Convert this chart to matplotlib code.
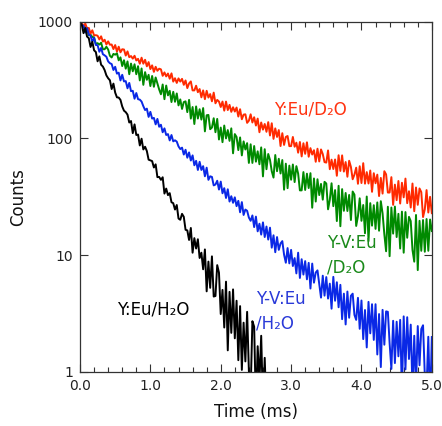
import matplotlib
matplotlib.use("Agg")
import matplotlib.pyplot as plt
import numpy as np
from matplotlib.ticker import MultipleLocator, FixedLocator, FormatStrFormatter

# decay curves, one value every 0.025 ms from t = 0
y_eu_d2o = [1000, 984, 904, 966, 871, 885, 791, 845, 764, 767,
            759, 705, 750, 676, 701, 638, 679, 635, 638, 583,
            631, 555, 611, 547, 581, 578, 513, 557, 497, 508,
            483, 511, 466, 481, 437, 492, 437, 472, 415, 451,
            393, 423, 372, 411, 380, 396, 391, 344, 368, 340,
            360, 325, 361, 307, 328, 299, 327, 307, 324, 288,
            314, 270, 296, 308, 258, 258, 283, 249, 265, 225,
            258, 217, 256, 224, 240, 208, 247, 200, 214, 207,
            186, 207, 173, 207, 175, 194, 169, 185, 170, 184,
            154, 178, 146, 160, 161, 136, 142, 161, 137, 152,
            129, 148, 113, 137, 119, 133, 114, 138, 106, 135,
            99.1, 122, 103, 118, 86.1, 111, 88, 103, 105, 85.9,
            86, 103, 84.9, 92, 75.5, 93.3, 70.1, 91, 73.8, 92.7,
            69.7, 82.6, 72.8, 79.3, 63.1, 81.7, 63.5, 80.5, 73.5, 62.7,
            62.1, 78.9, 54.5, 65.8, 54.7, 66.1, 47.9, 71.8, 52.7, 71.6,
            52.0, 62.8, 47.0, 64.4, 57.0, 44.7, 49.0, 56.2, 40.9, 57.8,
            41.5, 61.4, 41.0, 51.5, 41.1, 53.1, 34.9, 50.4, 41.3, 49.0,
            32.1, 45.9, 33.7, 52.4, 49.2, 34.4, 34.4, 46.6, 27.0, 40.2,
            29.6, 43.2, 27.7, 41.7, 31.3, 45.3, 27.9, 35.3, 25.6, 41.1,
            23.8, 38.0, 27.0, 37.3, 34.7, 21.2, 24.7, 36.1, 23.2, 31.6,
            22.9]

yv_eu_d2o = [1000, 938, 925, 895, 887, 767, 774, 741, 735, 643,
             655, 637, 661, 581, 581, 610, 578, 511, 494, 530,
             522, 537, 467, 495, 417, 468, 396, 457, 355, 438,
             376, 432, 355, 416, 314, 398, 288, 370, 318, 351,
             281, 343, 277, 333, 295, 263, 239, 290, 217, 284,
             234, 256, 205, 251, 206, 243, 192, 216, 179, 205,
             208, 168, 214, 148, 186, 133, 188, 148, 178, 145,
             182, 115, 158, 159, 120, 124, 149, 113, 147, 98.0,
             124, 92.9, 129, 100, 118, 95.3, 122, 74.6, 109, 103,
             79.4, 102, 71.6, 94.4, 80.4, 91.2, 61.7, 89.1, 61.7, 86.1,
             63.2, 77.6, 60.1, 83.8, 47.3, 80.9, 54.5, 73.6, 65.5, 52.4,
             46.2, 72.1, 52.4, 67.0, 50.1, 65.3, 36.4, 60.8, 37.5, 58.5,
             44.3, 59.8, 42.3, 57.9, 50.0, 35.9, 35.9, 51.5, 36.2, 49.9,
             37.6, 50.4, 25.5, 45.4, 28.8, 44.7, 32.7, 40.8, 29.9, 42.5,
             41.1, 24.7, 29.8, 41.3, 26.3, 36.1, 19.6, 39.3, 17.7, 36.8,
             24.0, 34.1, 23.9, 32.8, 20.0, 35.1, 33.0, 17.8, 21.6, 30.7,
             19.7, 26.9, 15.4, 31.8, 13.2, 27.9, 17.9, 26.8, 16.8, 28.3,
             16.2, 29.0, 22.8, 15.1, 10.8, 26.0, 9.8, 25.6, 15.3, 26.1,
             14.3, 22.6, 11.4, 23.6, 10.5, 23.4, 14.1, 21.3, 19.6, 11.1,
             8.8, 22.1, 7.45, 19.7, 10.9, 20.0, 10.7, 20.4, 10.9, 20.2,
             16.1]

yv_eu_h2o = [1000, 940, 920, 809, 881, 778, 757, 673, 728, 632,
             630, 553, 596, 527, 515, 501, 457, 441, 434, 386,
             411, 359, 366, 314, 351, 308, 310, 269, 299, 254,
             256, 219, 245, 217, 215, 207, 189, 175, 180, 153,
             169, 148, 150, 132, 147, 126, 131, 113, 122, 107,
             109, 96.2, 107, 94.4, 96.4, 94.0, 85.5, 81.1, 83.4, 72.8,
             80.0, 68.4, 75.9, 64.7, 71.6, 58.9, 64.3, 53.7, 63.1, 53.7,
             57.9, 47.4, 56.2, 44.2, 47.4, 46.8, 39.6, 40.3, 43.4, 36.5,
             42.7, 33.9, 37.5, 30.9, 36.7, 28.8, 32.0, 28.1, 31.3, 26.3,
             29.2, 23.3, 28.5, 22.1, 24.6, 24.0, 21.0, 19.7, 21.9, 17.4,
             21.4, 16.0, 18.6, 15.0, 19.1, 14.3, 17.6, 13.6, 17.2, 11.6,
             14.8, 10.6, 14.3, 11.1, 12.6, 13.2, 10.1, 8.61, 11.5, 8.51,
             11.1, 8.07, 9.44, 6.98, 10.5, 6.38, 9.23, 6.82, 8.89, 6.21,
             8.59, 5.18, 8.47, 5.81, 7.10, 7.41, 5.62, 4.33, 6.67, 4.50,
             6.49, 4.25, 5.70, 3.48, 6.52, 4.07, 5.86, 3.58, 5.57, 2.83,
             4.68, 2.55, 4.88, 2.91, 4.49, 4.68, 3.08, 2.79, 4.31, 2.34,
             4.09, 1.91, 3.39, 1.62, 3.98, 2.14, 3.80, 1.88, 3.80, 1.41,
             3.13, 1.10, 3.40, 1.71, 3.30, 3.27, 1.76, 1.06, 2.74, 1.19,
             2.69, 1.36, 2.79, 0.66, 2.99, 1.05, 2.94, 1.29, 2.54, 0.70,
             2.04, 0.73, 2.47, 1.14, 2.33, 2.51, 0.94, 0.73, 2.00, 0.51,
             1.99]

y_eu_h2o = [1000, 944, 798, 883, 746, 723, 608, 673, 569, 550,
            458, 505, 428, 413, 385, 347, 328, 315, 265, 295,
            247, 225, 224, 214, 188, 173, 168, 160, 137, 141,
            111, 132, 107, 108, 87.1, 99.5, 80.5, 84.9, 78.0, 65.8,
            64.9, 64.0, 56.4, 60.0, 46.6, 46.8, 44.2, 46.5, 33.7, 37.2,
            32.7, 34.0, 28.4, 27.9, 24.6, 26.9, 20.6, 20.1, 22.6, 21.3,
            16.5, 16.3, 13.5, 17.1, 10.5, 14.0, 11.4, 13.7, 9.46, 10.5,
            7.57, 11.2, 4.90, 8.81, 5.25, 9.77, 4.42, 4.47, 8.22, 7.08,
            3.13, 5.04, 2.40, 5.93, 1.53, 4.85, 2.16, 5.09, 1.94, 4.07,
            1.26, 3.66, 1.04, 2.64, 1.23, 3.27, 1.02, 0.68, 2.72, 2.44,
            0.50, 1.66, 0.83, 2.04, 0.52, 1.32, 0.45]

series_labels = ["Y:Eu/D\u2082O", "Y-V:Eu\n/D\u2082O", "Y-V:Eu\n/H\u2082O", "Y:Eu/H\u2082O"]
x_ticks = [0, 1, 2, 3, 4, 5]
y_ticks = [1, 10, 100, 1000]


def main():
    dt = 0.025
    t_long = np.arange(len(y_eu_d2o)) * dt
    t_short = np.arange(len(y_eu_h2o)) * dt

    fig = plt.figure(figsize=(4.42, 4.26), dpi=100)
    ax = fig.add_axes([0.181, 0.127, 0.796, 0.822])

    red = "#ff2a00"
    green = "#008a00"
    blue = "#0a28e6"
    lw = 1.4
    ax.plot(t_long, yv_eu_d2o, color=green, lw=lw)
    ax.plot(t_long, y_eu_d2o, color=red, lw=lw)
    ax.plot(t_long, yv_eu_h2o, color=blue, lw=lw)
    ax.plot(t_short, y_eu_h2o, color="black", lw=lw)

    ax.set_yscale("log")
    ax.set_xlim(0, 5)
    ax.set_ylim(1, 1000)
    ax.xaxis.set_major_locator(FixedLocator(x_ticks))
    ax.xaxis.set_minor_locator(MultipleLocator(0.2))
    ax.xaxis.set_major_formatter(FormatStrFormatter("%.1f"))
    ax.yaxis.set_major_locator(FixedLocator(y_ticks))
    ax.yaxis.set_minor_locator(FixedLocator([]))
    ax.set_yticklabels([str(v) for v in y_ticks])

    ax.tick_params(which="both", direction="in", top=True, right=True,
                   colors="#333333", labelcolor="#222222", labelsize=10, width=0.8)
    ax.tick_params(which="major", length=6, pad=5)
    ax.tick_params(which="minor", length=3.5)
    for s in ax.spines.values():
        s.set_color("#333333")
        s.set_linewidth(0.9)

    ax.set_xlabel("Time (ms)", fontsize=12, color="#111111", labelpad=7)
    ax.set_ylabel("Counts", fontsize=12, color="#111111", labelpad=8)

    fs = 12
    ax.text(2.76, 176, series_labels[0], color="#ff3311", fontsize=fs, va="center")
    ax.text(3.51, 10.0, series_labels[1], color="#1a8a1a", fontsize=fs, va="center",
            linespacing=1.5)
    ax.text(2.5, 3.3, series_labels[2], color="#2a3ad8", fontsize=fs, va="center",
            linespacing=1.5)
    ax.text(0.53, 3.45, series_labels[3], color="black", fontsize=fs, va="center")

    fig.savefig("out.png", dpi=100)


if __name__ == "__main__":
    main()
